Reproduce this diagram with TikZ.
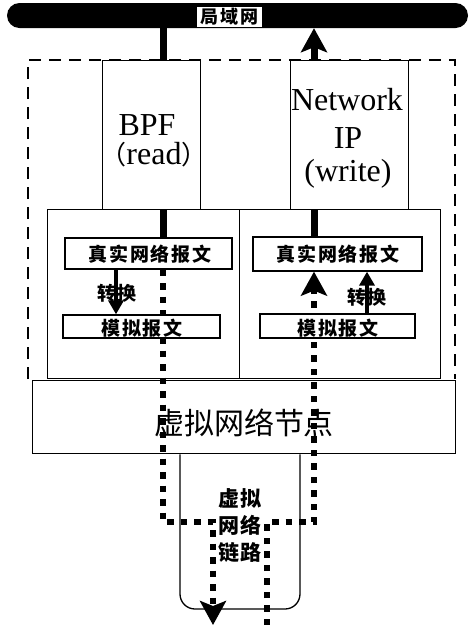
\documentclass[tikz,border=0pt]{standalone}
\usepackage{fontspec}
\setmainfont{Liberation Serif}
\newfontfamily\cjk{Noto Sans CJK SC}
\newfontfamily\cjksp[LetterSpace=9]{Noto Sans CJK SC}
\usetikzlibrary{arrows.meta}
\begin{document}
\begin{tikzpicture}[x=1pt,y=-1pt,
  thinbox/.style={draw, line width=1.3pt, inner sep=0pt},
  wbox/.style={draw, line width=1.3pt, fill=white, inner sep=0pt},
  dashbox/.style={line width=2.8pt, dash pattern=on 12pt off 8pt},
  solidpath/.style={line width=7pt},
  dotpath/.style={line width=6.5pt, dash pattern=on 6.5pt off 7pt},
  bigtip/.style={-{Stealth[length=24pt,width=26pt,inset=5pt]}},
  smalltip/.style={-{Triangle[length=14pt,width=15pt]}},
  latin/.style={font=\fontsize{32}{32}\selectfont, inner sep=0pt, anchor=base},
  cjkbold/.style={font=\cjksp\bfseries\fontsize{19}{19}\selectfont, inner sep=0pt}
]
\useasboundingbox (0,0) rectangle (475,625);

% LAN bar
\node (lan) [fill=black, rounded corners=12.5pt, minimum width=461pt, minimum height=25pt, inner sep=0pt] at (237.5,15.5) {};
\node (lanlab) [fill=white, inner sep=0pt, minimum width=65pt, minimum height=20pt,
  font=\cjksp\bfseries\fontsize{18}{18}\selectfont] at (229.5,16.5) {局域网};

% dashed host boundary
\draw[dashbox] (28,379) -- (28,60) -- (455,60) -- (455,379);

% middle boxes
\node (lm) [thinbox, minimum width=192pt, minimum height=169pt, anchor=north west] at (47,209) {};
\node (rm) [thinbox, minimum width=201pt, minimum height=169pt, anchor=north west] at (239,209) {};

% virtual network node
\node (vn) [thinbox, fill=white, minimum width=423pt, minimum height=73pt, anchor=north west] at (32,380) {};
\node (vnt) [font=\cjk\fontsize{30}{30}\selectfont, inner sep=0pt] at (244,423) {虚拟网络节点};

% virtual link shape
\coordinate (la) at (180,0);
\coordinate (lb) at (300,0);
\draw[line width=1.3pt, rounded corners=15pt] (la |- vn.south) -- (180,609) -- (300,609) -- (lb |- vn.south);

% path x positions
\coordinate (pL) at (163,0);
\coordinate (pR) at (314,0);
\coordinate (qL) at (213,0);
\coordinate (qR) at (267,0);
\coordinate (hy) at (0,522);
\coordinate (bot) at (0,625);

% small boxes (positions)
\path (148.5,253.5) node (rl) [wbox, minimum width=167pt, minimum height=31pt] {};
\path (337.5,254) node (rr) [wbox, minimum width=169pt, minimum height=34pt] {};
\path (141.5,326.5) node (sl) [wbox, minimum width=157pt, minimum height=23pt] {};
\path (337.5,326) node (sr) [wbox, minimum width=155pt, minimum height=24pt] {};

% solid lines to LAN
\draw[solidpath] (pL |- lan.south) -- (pL |- rl.north);
\draw[solidpath, bigtip] (pR |- rr.north) -- (pR |- lan.south);

% dotted packet paths
\draw[dotpath, bigtip] (pL |- rl.south) -- (pL |- hy) -- (qL |- hy) -- (qL |- bot);
\draw[dotpath, bigtip] (qR |- bot) -- (qR |- hy) -- (pR |- hy) -- (pR |- rr.south);

% upper boxes (cover lines)
\node (bpf) [wbox, minimum width=98pt, minimum height=149pt, anchor=north west] at (102,60) {};
\node (nip) [wbox, minimum width=118pt, minimum height=149pt, anchor=north west] at (290,60) {};

\node (bpft) [latin] at (147,135) {BPF};
\node (bpfr) [latin] at (154,164) {{\cjk\fontsize{26}{26}\selectfont （}read{\cjk\fontsize{26}{26}\selectfont ）}};
\node (nipa) [latin] at (347,110) {Network};
\node (nipb) [latin] at (348,148) {IP};
\node (nipc) [latin] at (348,181) {(write)};

% redraw small boxes on top of the dotted lines
\node [wbox, minimum width=167pt, minimum height=31pt] at (rl) {};
\node [wbox, minimum width=169pt, minimum height=34pt] at (rr) {};
\node [wbox, minimum width=157pt, minimum height=23pt] at (sl) {};
\node [wbox, minimum width=155pt, minimum height=24pt] at (sr) {};
\node (rlt) [cjkbold] at (150,254) {真实网络报文};
\node (rrt) [cjkbold] at (338,254) {真实网络报文};
\node (slt) [cjkbold] at (142,328) {模拟报文};
\node (srt) [cjkbold] at (338,328) {模拟报文};

% conversion arrows
\coordinate (cL) at (116,0);
\coordinate (cR) at (367,0);
\draw[line width=3.5pt, smalltip] (cL |- rl.south) -- (cL |- sl.north);
\draw[line width=3.5pt, smalltip] (cR |- sr.north) -- (cR |- rr.south);
\node (cvl) [cjkbold] at (117,293) {转换};
\node (cvr) [cjkbold] at (367,297) {转换};

% link label
\node (lk) [cjkbold, font=\cjksp\bfseries\fontsize{21}{27}\selectfont, align=center] at (240,526) {虚拟\\网络\\链路};
\end{tikzpicture}
\end{document}
